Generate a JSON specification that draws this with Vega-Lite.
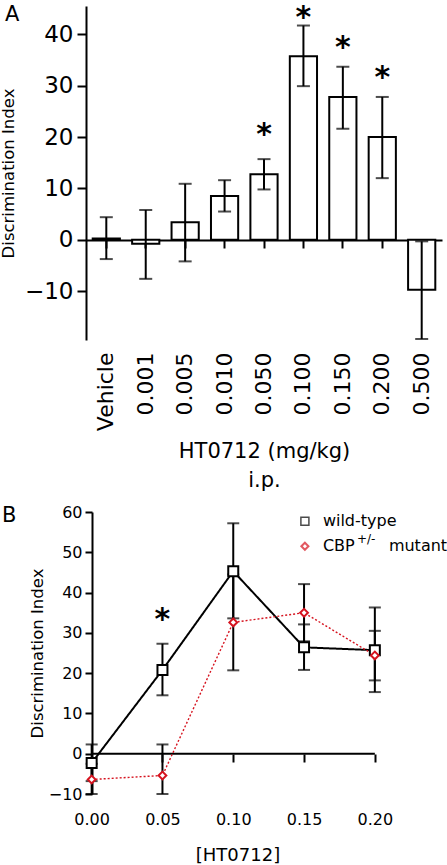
{
  "$schema": "https://vega.github.io/schema/vega-lite/v6.json",
  "padding": {"left": 0, "top": 2, "right": 0, "bottom": 0},
  "background": "white",
  "spacing": 13,
  "config": {
    "font": "DejaVu Sans",
    "view": {"stroke": null},
    "axis": {"grid": false, "domainColor": "black", "tickColor": "black", "labelColor": "black", "titleColor": "black", "titleFontWeight": "normal", "domainWidth": 2, "tickWidth": 2}
  },
  "vconcat": [
    {
      "width": 356,
      "height": 334,
      "title": {"text": "A", "anchor": "start", "frame": "group", "orient": "top", "fontSize": 21, "fontWeight": "normal", "offset": -22, "dx": -81, "color": "black"},
      "data": {"values": [
        {"dose": "Vehicle", "mean": 0.25, "lo": -3.75, "hi": 4.4},
        {"dose": "0.001", "mean": -0.78, "lo": -7.6, "hi": 5.8},
        {"dose": "0.005", "mean": 3.4, "lo": -4.2, "hi": 10.9},
        {"dose": "0.010", "mean": 8.5, "lo": 5.5, "hi": 11.6},
        {"dose": "0.050", "mean": 12.75, "lo": 9.8, "hi": 15.7, "star": 22.0},
        {"dose": "0.100", "mean": 35.7, "lo": 29.9, "hi": 41.7, "star": 44.8},
        {"dose": "0.150", "mean": 27.8, "lo": 21.6, "hi": 33.7, "star": 38.9},
        {"dose": "0.200", "mean": 20.0, "lo": 12.0, "hi": 27.8, "star": 33.1},
        {"dose": "0.500", "mean": -9.7, "lo": -19.3, "hi": -0.3}
      ]},
      "resolve": {"axis": {"x": "independent"}},
      "layer": [
        {
          "mark": {"type": "bar", "fill": "white", "stroke": "black", "strokeWidth": 2},
          "encoding": {
            "x": {"field": "dose", "type": "nominal", "sort": null,
                  "scale": {"paddingInner": 0.31, "paddingOuter": 0.17},
                  "axis": {"orient": "bottom", "labelAngle": 270, "labelAlign": "right", "labelBaseline": "middle", "labelFontSize": 22, "labelPadding": 12, "ticks": false, "tickSize": 0, "domain": false,
                           "title": ["HT0712 (mg/kg)", "i.p."], "titleFontSize": 21, "titleLineHeight": 29, "titlePadding": 10}},
            "y": {"field": "mean", "type": "quantitative",
                  "scale": {"domain": [-19.5, 45.5], "nice": false, "zero": false},
                  "axis": {"values": [-10, 0, 10, 20, 30, 40], "labelFontSize": 23, "tickSize": 9, "labelPadding": 4,
                           "title": "Discrimination Index", "titleFontSize": 16.5, "titlePadding": 8}}
          }
        },
        {
          "mark": {"type": "rule", "strokeWidth": 2, "color": "black"},
          "encoding": {
            "x": {"field": "dose", "type": "nominal", "sort": null,
                  "axis": {"orient": "bottom", "offset": -100, "labels": false, "title": null, "tickSize": 8, "domain": true}},
            "y": {"field": "lo", "type": "quantitative"},
            "y2": {"field": "hi"}
          }
        },
        {
          "mark": {"type": "tick", "orient": "horizontal", "size": 13, "thickness": 2, "color": "black"},
          "encoding": {
            "x": {"field": "dose", "type": "nominal", "sort": null, "axis": null},
            "y": {"field": "lo", "type": "quantitative"}
          }
        },
        {
          "mark": {"type": "tick", "orient": "horizontal", "size": 13, "thickness": 2, "color": "black"},
          "encoding": {
            "x": {"field": "dose", "type": "nominal", "sort": null, "axis": null},
            "y": {"field": "hi", "type": "quantitative"}
          }
        },
        {
          "transform": [{"filter": "isValid(datum.star)"}],
          "mark": {"type": "text", "text": "*", "fontSize": 30, "fontWeight": "bold", "baseline": "alphabetic", "dy": 17, "color": "black"},
          "encoding": {
            "x": {"field": "dose", "type": "nominal", "sort": null, "axis": null},
            "y": {"field": "star", "type": "quantitative"}
          }
        }
      ]
    },
    {
      "width": 303,
      "height": 282,
      "title": {"text": "B", "anchor": "start", "frame": "group", "orient": "top", "fontSize": 21, "fontWeight": "normal", "offset": -22, "dx": -84, "color": "black"},
      "data": {"values": [
        {"dose": 0.00, "series": "wild-type", "mean": -2.3, "lo": -6.8, "hi": 2.3},
        {"dose": 0.05, "series": "wild-type", "mean": 20.8, "lo": 14.5, "hi": 27.3},
        {"dose": 0.10, "series": "wild-type", "mean": 45.3, "lo": 33.6, "hi": 57.2},
        {"dose": 0.15, "series": "wild-type", "mean": 26.4, "lo": 20.8, "hi": 32.1},
        {"dose": 0.20, "series": "wild-type", "mean": 25.7, "lo": 15.3, "hi": 36.3},
        {"dose": 0.00, "series": "CBP", "mean": -6.4, "lo": -10.3, "hi": -2.5},
        {"dose": 0.05, "series": "CBP", "mean": -5.4, "lo": -13.1, "hi": 2.3},
        {"dose": 0.10, "series": "CBP", "mean": 32.6, "lo": 20.7, "hi": 44.5},
        {"dose": 0.15, "series": "CBP", "mean": 35.0, "lo": 27.9, "hi": 42.1},
        {"dose": 0.20, "series": "CBP", "mean": 24.4, "lo": 18.2, "hi": 30.5}
      ]},
      "resolve": {"axis": {"x": "independent"}},
      "layer": [
        {
          "data": {"values": [{}]},
          "mark": {"type": "rule", "strokeWidth": 2, "color": "black"},
          "encoding": {
            "x": {"datum": 0, "type": "quantitative",
                  "scale": {"domain": [-0.004, 0.21], "nice": false, "zero": false},
                  "axis": {"orient": "bottom", "values": [0, 0.05, 0.1, 0.15, 0.2], "format": ".2f", "ticks": false, "tickSize": 0, "domain": false,
                           "labelFontSize": 16, "labelPadding": 17, "title": "[HT0712]", "titleFontSize": 18, "titlePadding": 19}},
            "x2": {"datum": 0.2},
            "y": {"datum": 0, "type": "quantitative",
                  "scale": {"domain": [-10, 60], "nice": false, "zero": false, "clamp": true},
                  "axis": {"offset": -6, "values": [-10, 0, 10, 20, 30, 40, 50, 60], "tickSize": 7, "labelFontSize": 16, "labelPadding": 3,
                           "title": "Discrimination Index", "titleFontSize": 16.5, "titlePadding": 3}}
          }
        },
        {
          "mark": {"type": "rule", "strokeWidth": 2, "color": "black"},
          "encoding": {
            "x": {"field": "dose", "type": "quantitative",
                  "axis": {"orient": "bottom", "offset": -40, "values": [0.05, 0.1, 0.15, 0.2], "labels": false, "title": null, "tickSize": 8, "domain": false}},
            "y": {"field": "lo", "type": "quantitative"},
            "y2": {"field": "hi"}
          }
        },
        {
          "mark": {"type": "tick", "orient": "horizontal", "size": 12, "thickness": 2, "color": "black"},
          "encoding": {
            "x": {"field": "dose", "type": "quantitative", "axis": null},
            "y": {"field": "lo", "type": "quantitative"}
          }
        },
        {
          "mark": {"type": "tick", "orient": "horizontal", "size": 12, "thickness": 2, "color": "black"},
          "encoding": {
            "x": {"field": "dose", "type": "quantitative", "axis": null},
            "y": {"field": "hi", "type": "quantitative"}
          }
        },
        {
          "mark": {"type": "line"},
          "encoding": {
            "x": {"field": "dose", "type": "quantitative", "axis": null},
            "y": {"field": "mean", "type": "quantitative"},
            "color": {"field": "series", "type": "nominal", "scale": {"domain": ["wild-type", "CBP"], "range": ["black", "#d6131f"]}, "legend": null},
            "strokeDash": {"field": "series", "type": "nominal", "scale": {"domain": ["wild-type", "CBP"], "range": [[1, 0], [2, 2]]}, "legend": null},
            "strokeWidth": {"field": "series", "type": "nominal", "scale": {"domain": ["wild-type", "CBP"], "range": [2, 1.4]}, "legend": null}
          }
        },
        {
          "mark": {"type": "point", "filled": false, "fill": "white", "fillOpacity": 1, "strokeWidth": 2, "opacity": 1},
          "encoding": {
            "x": {"field": "dose", "type": "quantitative", "axis": null},
            "y": {"field": "mean", "type": "quantitative"},
            "shape": {"field": "series", "type": "nominal", "scale": {"domain": ["wild-type", "CBP"], "range": ["square", "diamond"]}, "legend": null},
            "stroke": {"field": "series", "type": "nominal", "scale": {"domain": ["wild-type", "CBP"], "range": ["black", "#d6131f"]}, "legend": null},
            "size": {"field": "series", "type": "nominal", "scale": {"domain": ["wild-type", "CBP"], "range": [100, 60]}, "legend": null}
          }
        },
        {
          "data": {"values": [{}]},
          "mark": {"type": "text", "text": "*", "fontSize": 30, "fontWeight": "bold", "baseline": "alphabetic", "dy": 17, "color": "black"},
          "encoding": {
            "x": {"datum": 0.05, "type": "quantitative", "axis": null},
            "y": {"datum": 35.3, "type": "quantitative"}
          }
        },
        {
          "data": {"values": [{}]},
          "mark": {"type": "point", "shape": "square", "size": 64, "filled": false, "stroke": "black", "strokeWidth": 1.5},
          "encoding": {
            "x": {"datum": 0.1506, "type": "quantitative", "axis": null},
            "y": {"datum": 57.7, "type": "quantitative"}
          }
        },
        {
          "data": {"values": [{}]},
          "mark": {"type": "point", "shape": "diamond", "size": 50, "filled": false, "stroke": "#d6131f", "strokeWidth": 2},
          "encoding": {
            "x": {"datum": 0.1506, "type": "quantitative", "axis": null},
            "y": {"datum": 51.5, "type": "quantitative"}
          }
        },
        {
          "data": {"values": [{}]},
          "mark": {"type": "text", "text": "wild-type", "fontSize": 16, "align": "left", "baseline": "middle", "color": "black"},
          "encoding": {
            "x": {"datum": 0.1633, "type": "quantitative", "axis": null},
            "y": {"datum": 57.7, "type": "quantitative"}
          }
        },
        {
          "data": {"values": [{}]},
          "mark": {"type": "text", "text": "CBP", "fontSize": 16, "align": "left", "baseline": "middle", "color": "black"},
          "encoding": {
            "x": {"datum": 0.1633, "type": "quantitative", "axis": null},
            "y": {"datum": 51.5, "type": "quantitative"}
          }
        },
        {
          "data": {"values": [{}]},
          "mark": {"type": "text", "text": "+/-", "fontSize": 12, "align": "left", "baseline": "middle", "dx": 34, "dy": -7, "color": "black"},
          "encoding": {
            "x": {"datum": 0.1633, "type": "quantitative", "axis": null},
            "y": {"datum": 51.5, "type": "quantitative"}
          }
        },
        {
          "data": {"values": [{}]},
          "mark": {"type": "text", "text": "mutant", "fontSize": 16, "align": "left", "baseline": "middle", "dx": 66, "color": "black"},
          "encoding": {
            "x": {"datum": 0.1633, "type": "quantitative", "axis": null},
            "y": {"datum": 51.5, "type": "quantitative"}
          }
        }
      ]
    }
  ]
}
